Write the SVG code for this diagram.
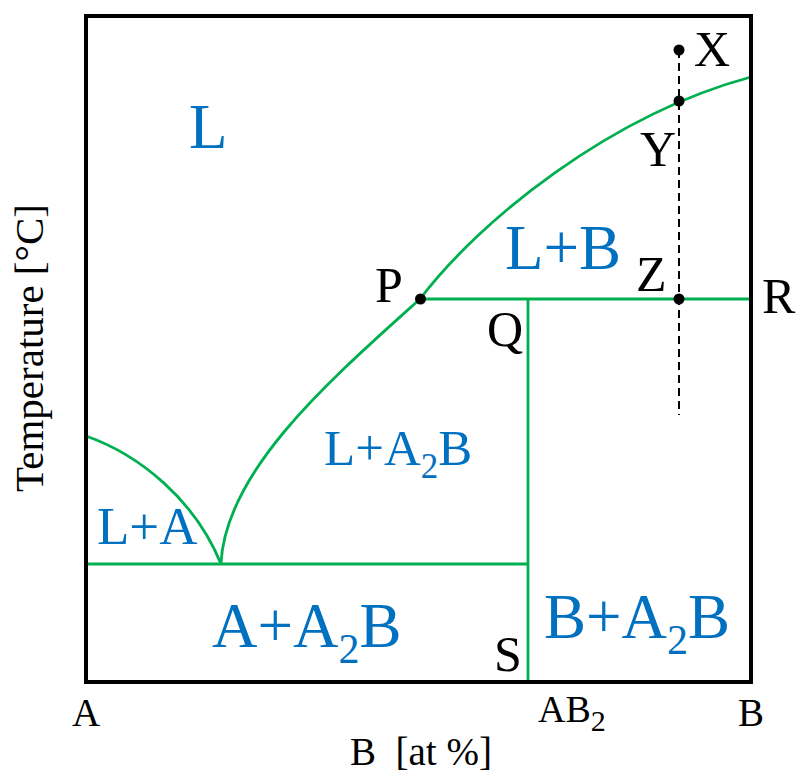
<svg xmlns="http://www.w3.org/2000/svg" width="798" height="773" viewBox="0 0 798 773">
<style>
.frame{fill:none;stroke:#000;stroke-width:4}
.ph{fill:none;stroke:#00b050;stroke-width:2.8}
.dash{fill:none;stroke:#000;stroke-width:2;stroke-dasharray:8 5}
.dot{fill:#000}
text{font-family:'Liberation Serif','DejaVu Serif',serif}
.blue{fill:#0070c0}
.blk{fill:#000}
</style>
<rect width="798" height="773" fill="#fff"/>
<g id="connectors">
<path class="dash" d="M679,50 V415"/>
<path class="ph" d="M86,436 C140,455 195,500 221,564"/>
<path class="ph" d="M221,563 C226,470 330,380 420,299"/>
<path class="ph" d="M420,299 C480,220 610,115 751,77"/>
<path class="ph" d="M86,564 H528"/>
<path class="ph" d="M420,299 H751"/>
<path class="ph" d="M528,299 V682"/>
</g>
<g id="frame"><rect class="frame" x="86" y="16" width="665" height="666"/></g>
<g id="points">
<circle class="dot" cx="679" cy="50" r="5.5"/>
<circle class="dot" cx="679" cy="101" r="5.5"/>
<circle class="dot" cx="679" cy="299" r="5.5"/>
<circle class="dot" cx="420.5" cy="299" r="5.5"/>
</g>
<g id="region-L"><text class="blue" x="189" y="148" font-size="63">L</text></g>
<g id="region-LB"><text class="blue" x="505" y="269" font-size="63">L+B</text></g>
<g id="region-LA"><text class="blue" x="97" y="544" font-size="53">L+A</text></g>
<g id="region-LA2B"><text class="blue" x="324" y="465" font-size="51">L+A<tspan font-size="35" dy="13">2</tspan><tspan dy="-13">B</tspan></text></g>
<g id="region-AA2B"><text class="blue" x="212" y="647" font-size="63">A+A<tspan font-size="42" dy="16">2</tspan><tspan dy="-16">B</tspan></text></g>
<g id="region-BA2B"><text class="blue" x="544" y="638" font-size="63">B+A<tspan font-size="42" dy="16">2</tspan><tspan dy="-16">B</tspan></text></g>
<g id="labels">
<text class="blk" x="694" y="66" font-size="50">X</text>
<text class="blk" x="640" y="166" font-size="50">Y</text>
<text class="blk" x="636" y="291" font-size="50">Z</text>
<text class="blk" x="375" y="302" font-size="50">P</text>
<text class="blk" x="762" y="313" font-size="50">R</text>
<text class="blk" x="487" y="346" font-size="50">Q</text>
<text class="blk" x="494" y="671" font-size="50">S</text>
<text class="blk" x="72" y="726" font-size="39">A</text>
<text class="blk" x="538" y="722" font-size="38">AB<tspan font-size="30" dy="9">2</tspan></text>
<text class="blk" x="738" y="726" font-size="39">B</text>
<text class="blk" x="350" y="765" font-size="39" xml:space="preserve">B  [at %]</text>
<text class="blk" font-size="41" text-anchor="middle" transform="translate(43,348) rotate(-90)">Temperature [°C]</text>
</g>
</svg>
